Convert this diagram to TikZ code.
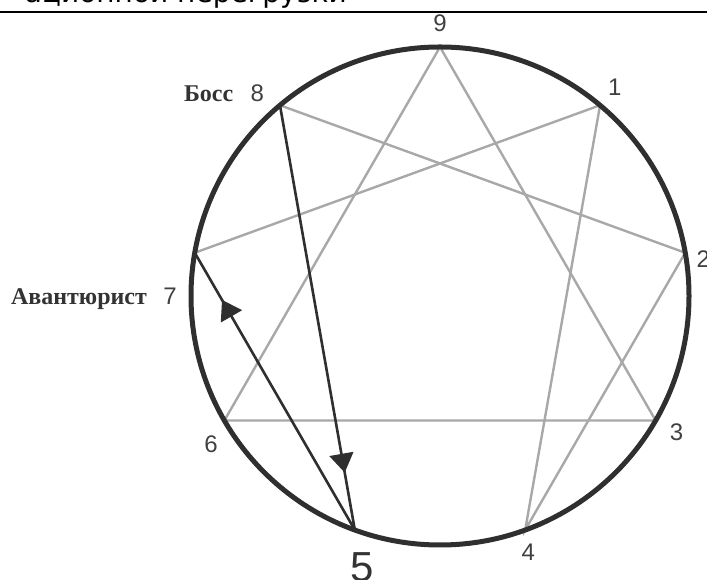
\documentclass[tikz,border=0pt]{standalone}
\usepackage{fontspec}
\setmainfont{Liberation Serif}
\newfontfamily\digitfont{Liberation Sans}
\newfontfamily\headfont{DejaVu Sans}
\usetikzlibrary{positioning,arrows.meta,decorations.markings}

\definecolor{ringdark}{HTML}{2F2F2F}
\definecolor{linegray}{HTML}{A8A8A8}

\begin{document}
\begin{tikzpicture}[
    x=1pt, y=1pt,
    ring/.style={draw=ringdark, line width=5pt},
    faint/.style={draw=linegray, line width=2.4pt},
    strong/.style={draw=ringdark, line width=2.6pt},
    num/.style={font=\digitfont\fontsize{24}{24}\selectfont, text=black!75, inner sep=0pt},
    bignum/.style={font=\digitfont\fontsize{42}{42}\selectfont, text=black!80, inner sep=0pt},
    typename/.style={font=\bfseries\fontsize{24}{24}\selectfont, text=black!80, inner sep=0pt},
    midarrow/.style={postaction={decorate}, decoration={markings,
        mark=at position #1 with {\arrow{Triangle[length=19pt, width=24pt]}}}}
]
\useasboundingbox (0,0) rectangle (707,580);
\begin{scope}
    \clip (0,0) rectangle (707,580);
    \node[anchor=base east, inner sep=0pt, font=\headfont\fontsize{28}{28}\selectfont] (header) at (347,577) {ационной перегрузки};
\end{scope}
\coordinate (ruleL) at (0,568);
\coordinate (ruleR) at (707,568);
\draw[line width=1.6pt] (ruleL) -- (ruleR);

% enneagram points
\coordinate (c) at (440,284);
\foreach \k in {1,...,9}
    \path (c) ++({90-40*\k}:249) coordinate (p\k);

% inner figure
\draw[faint] (p9) -- (p3) -- (p6) -- cycle;
\draw[faint] (p1) -- (p4) -- (p2) -- (p8);
\draw[faint] (p7) -- (p1);
\draw[strong, midarrow=0.865] (p8) -- (p5);
\draw[strong, midarrow=0.83] (p5) -- (p7);
\draw[ring] (c) circle[radius=249];

% numbers
\path (c) ++(90:273) node[num] (n9) {9};
\path (c) ++(50:272) node[num] (n1) {1};
\path (c) ++(8:266) node[num] (n2) {2};
\path (c) ++(-30:273) node[num] (n3) {3};
\path (c) ++(-71:271) node[num] (n4) {4};
\path (c) ++(-106:282) node[bignum] (n5) {5};
\path (c) ++(-147:273) node[num] (n6) {6};
\path (c) ++(180:270) node[num] (n7) {7};
\path (c) ++(132:273) node[num] (n8) {8};

% types
\node[typename, anchor=base east] (boss) at ([xshift=-17pt]n8.base west) {Босс};
\node[typename, anchor=base east] (adventurer) at ([xshift=-16pt]n7.base west) {Авантюрист};
\end{tikzpicture}
\end{document}
